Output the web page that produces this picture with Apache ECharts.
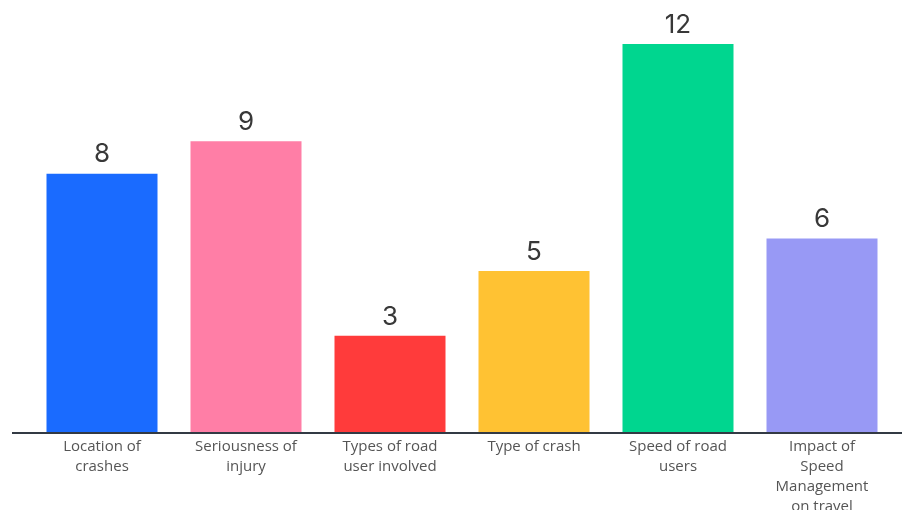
<!DOCTYPE html>
<html>
<head>
<meta charset="utf-8">
<script src="https://cdn.jsdelivr.net/npm/echarts@6/dist/echarts.min.js"></script>
<style>
html,body{margin:0;padding:0;background:#fff;}
#chart{width:902px;height:510px;}
</style>
</head>
<body>
<div id="chart"></div>
<script>
const categories = [
  "Location of\ncrashes",
  "Seriousness of\ninjury",
  "Types of road\nuser involved",
  "Type of crash",
  "Speed of road\nusers",
  "Impact of\nSpeed\nManagement\non travel"
];
const values = [8, 9, 3, 5, 12, 6];
const colors = ["#1a6bff", "#ff7ea6", "#ff3b3b", "#ffc233", "#00d68f", "#9899f5"];

const chart = echarts.init(document.getElementById('chart'));
const option = {
  animation: false,
  grid: { left: 30, right: 8, top: 44, bottom: 77, containLabel: false, outerBoundsMode: 'none' },
  xAxis: {
    type: 'category',
    data: categories,
    axisLine: { show: false },
    axisTick: { show: false },
    axisLabel: {
      interval: 0,
      margin: 4,
      color: '#555',
      fontSize: 15,
      lineHeight: 20,
      fontFamily: '"Open Sans", sans-serif',
      letterSpacing: -0.5,
      align: 'center'
    }
  },
  yAxis: {
    type: 'value',
    min: 0,
    max: 12,
    show: false,
    splitLine: { show: false }
  },
  series: [{
    type: 'bar',
    data: values.map((v, i) => ({ value: v, itemStyle: { color: colors[i] } })),
    barWidth: 111,
    label: {
      show: true,
      position: 'top',
      distance: 6,
      color: '#383838',
      fontSize: 26,
      fontFamily: 'Inter, sans-serif'
    }
  }]
};
chart.setOption(option);
const y0 = chart.convertToPixel({ yAxisIndex: 0 }, 0);
chart.setOption({
  graphic: [{
    type: 'line',
    shape: { x1: 12, y1: y0, x2: 902, y2: y0 },
    style: { stroke: '#333a44', lineWidth: 2 },
    z: 10
  }]
});
</script>
</body>
</html>
